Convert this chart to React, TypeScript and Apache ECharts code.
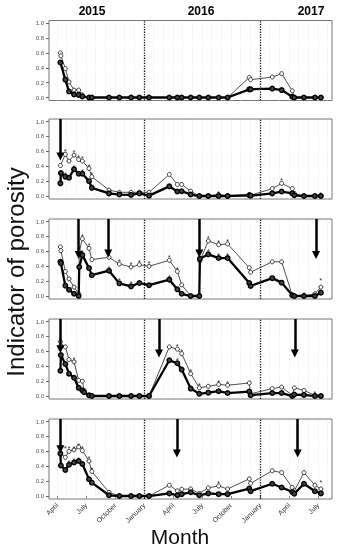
import React, { useEffect, useRef } from "react";
import * as echarts from "echarts";

const N = null;

// sampling dates, in months since 1 January 2015
const MONTHS = [3.35, 3.4, 3.86, 4.24, 4.76, 5.24, 5.3, 5.62, 5.8, 6.31, 6.6, 8.38, 9.45, 10.66, 11.52, 12.52, 14.62, 15.45, 15.9, 16.83, 17.72, 17.78, 18.65, 19.72, 20.65, 22.89, 23.03, 25.27, 26.24, 27.34, 27.55, 28.55, 29.68, 30.3];

const P1_FILLED = [0.47, N, 0.24, 0.08, 0.04, 0.035, N, 0.015, N, 0, 0, 0, 0, 0, 0, 0, 0, 0, 0, 0, 0, N, 0, 0, 0, 0.11, 0.11, 0.12, 0.1, 0.01, 0, 0, 0, 0];
const P1_OPEN = [0.6, 0.56, 0.39, 0.21, 0.1, 0.1, N, 0.035, N, 0, 0, 0, 0, 0, 0, 0, 0, 0, 0, 0, 0, N, 0, 0, 0, 0.27, 0.24, 0.275, 0.32, 0.09, 0, 0, 0, 0];

const P2_FILLED = [0.17, 0.31, 0.26, 0.245, 0.36, 0.3, N, 0.3, N, 0.2, 0.11, 0.035, 0.02, 0.015, 0.035, 0.005, 0.13, 0.06, 0.065, 0.02, 0, N, 0, 0, 0, 0.01, 0.005, 0.035, 0.06, 0.035, 0.01, 0, 0, 0];
const P2_OPEN = [0.41, N, 0.56, 0.47, 0.55, 0.49, N, 0.47, N, 0.37, 0.26, 0.08, 0.05, 0.05, 0.05, 0.05, 0.29, 0.155, 0.155, 0.065, 0, N, 0, 0.02, 0, 0.02, 0.01, 0.1, 0.17, 0.1, 0.035, 0, 0, 0];

const P3_FILLED = [0.46, 0.44, 0.14, 0.085, 0.03, 0, 0.39, 0.55, N, 0.375, 0.28, 0.34, 0.17, 0.13, 0.175, 0.145, 0.22, 0.09, 0.03, 0, 0, 0.5, 0.56, 0.51, 0.51, 0.175, 0.135, 0.24, 0.18, 0.01, 0, 0, 0, 0.045];
const P3_OPEN = [0.66, 0.61, 0.33, 0.23, 0.12, 0.03, 0.6, 0.77, N, 0.64, 0.49, 0.52, 0.43, 0.39, 0.42, 0.4, 0.48, 0.33, 0.15, 0, 0, 0.47, 0.74, 0.69, 0.7, 0.38, 0.32, 0.46, 0.46, 0.01, 0, 0, 0.03, 0.12];

const P4_FILLED = [0.34, 0.55, 0.43, 0.3, 0.245, 0.11, N, 0.075, 0.05, 0.01, 0, 0, 0, 0, 0, 0, 0.48, 0.44, 0.355, 0.1, 0.03, N, 0.045, 0.065, 0.04, 0.06, 0.01, 0.04, 0.04, 0, 0.02, 0.015, 0, 0];
const P4_OPEN = [0.73, 0.68, 0.66, 0.49, 0.46, 0.21, N, 0.2, 0.075, 0.01, 0, 0, 0, 0, 0, 0, 0.66, 0.63, 0.57, 0.3, 0.11, N, 0.13, 0.155, 0.145, 0.175, 0.03, 0.1, 0.12, 0.01, 0.11, 0.075, 0.01, 0];

const P5_FILLED = [0.57, 0.41, 0.35, 0.42, 0.45, 0.47, N, 0.43, N, 0.225, 0.18, 0.01, 0, 0, 0, 0, 0.035, 0.01, 0.025, 0.05, 0.01, N, 0.035, 0.025, 0.025, 0.1, 0.065, 0.165, 0.115, 0.055, 0.03, 0.165, 0.065, 0.035];
const P5_OPEN = [0.58, N, 0.52, 0.6, 0.62, 0.66, N, 0.61, N, 0.47, 0.33, 0.05, 0, 0, 0, 0, 0.145, 0.07, 0.09, 0.095, 0.035, N, 0.11, 0.135, 0.095, 0.23, 0.17, 0.34, 0.315, 0.115, 0.07, 0.315, 0.145, 0.095];

// asterisks: [sampling index, level]
const P1_STARS: number[][] = [];
const P2_STARS = [[2, 0.62], [4, 0.61], [5, 0.55], [7, 0.53], [9, 0.43], [10, 0.32], [2, 0.31], [4, 0.41], [7, 0.35], [10, 0.16], [23, 0.06], [28, 0.23], [33, 0.05]];
const P3_STARS = [[6, 0.66], [7, 0.83], [9, 0.7], [11, 0.58], [12, 0.49], [13, 0.45], [14, 0.48], [15, 0.46], [16, 0.54], [17, 0.39], [7, 0.61], [11, 0.4], [12, 0.23], [13, 0.19], [16, 0.28], [22, 0.8], [23, 0.75], [24, 0.76], [22, 0.62], [23, 0.57], [24, 0.57], [31, 0.05], [33, 0.23]];
const P4_STARS = [[0, 0.79], [4, 0.52], [17, 0.69], [18, 0.62], [19, 0.36], [20, 0.17], [23, 0.21], [24, 0.2], [17, 0.5], [32, 0.06]];
const P5_STARS = [[2, 0.67], [3, 0.67], [4, 0.67], [5, 0.71], [7, 0.66], [9, 0.53], [10, 0.39], [3, 0.48], [4, 0.51], [5, 0.52], [23, 0.19], [33, 0.21]];

// arrows: [month, tip level]
const P1_ARROWS: number[][] = [];
const P2_ARROWS = [[3.35, 0.48]];
const P3_ARROWS = [[5.24, 0.5], [8.3, 0.52], [17.72, 0.52], [29.8, 0.5]];
const P4_ARROWS = [[3.35, 0.58], [13.55, 0.52], [27.6, 0.52]];
const P5_ARROWS = [[3.35, 0.58], [15.4, 0.52], [27.9, 0.52]];

const TICK_MONTHS = [3, 6, 9, 12, 15, 18, 21, 24, 27, 30];
const TICK_LABELS = ["April", "July", "October", "January", "April", "July", "October", "January", "April", "July"];
const Y_TICKS = [0, 0.2, 0.4, 0.6, 0.8, 1.0];
const YEAR_STARTS = [12, 24];
const YEARS = ["2015", "2016", "2017"];

const PANELS = [
  { filled: P1_FILLED, open: P1_OPEN, stars: P1_STARS, arrows: P1_ARROWS },
  { filled: P2_FILLED, open: P2_OPEN, stars: P2_STARS, arrows: P2_ARROWS },
  { filled: P3_FILLED, open: P3_OPEN, stars: P3_STARS, arrows: P3_ARROWS },
  { filled: P4_FILLED, open: P4_OPEN, stars: P4_STARS, arrows: P4_ARROWS },
  { filled: P5_FILLED, open: P5_OPEN, stars: P5_STARS, arrows: P5_ARROWS },
];

const TOPS = [20.5, 119, 219, 319, 419];
const FONT = "Liberation Sans, Arial, sans-serif";

export default function App() {
  const ref = useRef<HTMLDivElement>(null);
  useEffect(() => {
    const chart = echarts.init(ref.current!, null, { renderer: "svg" });
    const grid: any[] = [];
    const xAxis: any[] = [];
    const yAxis: any[] = [];
    const series: any[] = [];
    const monthLines: number[] = [];
    for (let m = 3; m <= 31; m++) if (!YEAR_STARTS.includes(m)) monthLines.push(m);

    PANELS.forEach((p, i) => {
      const last = i === PANELS.length - 1;
      grid.push({ left: 49, right: 11, top: TOPS[i], height: 80, show: true, borderColor: "#777", borderWidth: 1, backgroundColor: "#fff" });
      xAxis.push({
        type: "value", gridIndex: i, min: 2.17, max: 31.45,
        axisLine: { show: false }, splitLine: { show: false },
        axisTick: { show: last, length: 3, customValues: TICK_MONTHS, lineStyle: { color: "#555" } },
        axisLabel: {
          show: last, customValues: TICK_MONTHS, rotate: 45, fontSize: 7, color: "#333", margin: 5, fontFamily: FONT,
          formatter: (v: number) => TICK_LABELS[TICK_MONTHS.indexOf(Math.round(v))] ?? "",
        },
      });
      yAxis.push({
        type: "value", gridIndex: i, min: -0.04, max: 1.035,
        axisLine: { show: false }, splitLine: { show: false },
        axisTick: { show: true, length: 3, customValues: Y_TICKS, lineStyle: { color: "#666" } },
        axisLabel: { customValues: Y_TICKS, fontSize: 6, color: "#555", margin: 5, fontFamily: FONT, formatter: (v: number) => v.toFixed(1) },
      });
      const pts = (arr: (number | null)[]) => MONTHS.map((m, k) => [m, arr[k]]).filter((d) => d[1] !== null);
      series.push({
        type: "line", xAxisIndex: i, yAxisIndex: i, data: pts(p.open), z: 3,
        lineStyle: { width: 0.8, color: "#222" }, symbol: "circle", symbolSize: 4,
        itemStyle: { color: "#fff", borderColor: "#222", borderWidth: 0.9 },
        markLine: {
          silent: true, symbol: ["none", "none"], label: { show: false }, z: 1,
          data: [
            ...monthLines.map((m) => ({ xAxis: m, lineStyle: { color: "#e4e4e4", width: 0.7, type: "dotted" } })),
            ...YEAR_STARTS.map((m) => ({ xAxis: m, lineStyle: { color: "#111", width: 1.3, type: "dotted" } })),
          ],
        },
      });
      series.push({
        type: "line", xAxisIndex: i, yAxisIndex: i, data: pts(p.filled), z: 4,
        lineStyle: { width: 2.3, color: "#000" }, symbol: "circle", symbolSize: 4.5,
        itemStyle: { color: "#444", borderColor: "#000", borderWidth: 1.4 },
        markLine: p.arrows.length ? {
          silent: true, symbol: ["none", "triangle"], symbolSize: 8, label: { show: false }, z: 6,
          lineStyle: { color: "#000", width: 2.5, type: "solid" },
          data: p.arrows.map((a) => [{ coord: [a[0], 1.035] }, { coord: [a[0], a[1] + 0.05] }]),
        } : undefined,
      });
      series.push({
        type: "scatter", xAxisIndex: i, yAxisIndex: i, z: 5,
        data: p.stars.map((s) => [MONTHS[s[0]], s[1]]),
        symbol: "circle", symbolSize: 1, itemStyle: { color: "rgba(0,0,0,0)" },
        label: { show: true, formatter: "*", position: "inside", fontSize: 8, color: "#000", offset: [0, 2], fontFamily: FONT },
      });
    });

    const yearX = [92, 201, 311];
    chart.setOption({
      animation: false,
      textStyle: { fontFamily: FONT },
      grid, xAxis, yAxis, series,
      graphic: [
        ...YEARS.map((y, k) => ({ type: "text", x: yearX[k], y: 11, style: { text: y, font: `bold 12px ${FONT}`, fill: "#000", textAlign: "center", textVerticalAlign: "middle" } })),
        { type: "text", x: 15, y: 272, rotation: Math.PI / 2, style: { text: "Indicator of porosity", font: `24px ${FONT}`, fill: "#111", textAlign: "center", textVerticalAlign: "middle" } },
        { type: "text", x: 180, y: 536, style: { text: "Month", font: `21px ${FONT}`, fill: "#111", textAlign: "center", textVerticalAlign: "middle" } },
      ],
    });
    return () => chart.dispose();
  }, []);
  return <div ref={ref} style={{ position: "fixed", left: 0, top: 0, width: 343, height: 550 }} />;
}
